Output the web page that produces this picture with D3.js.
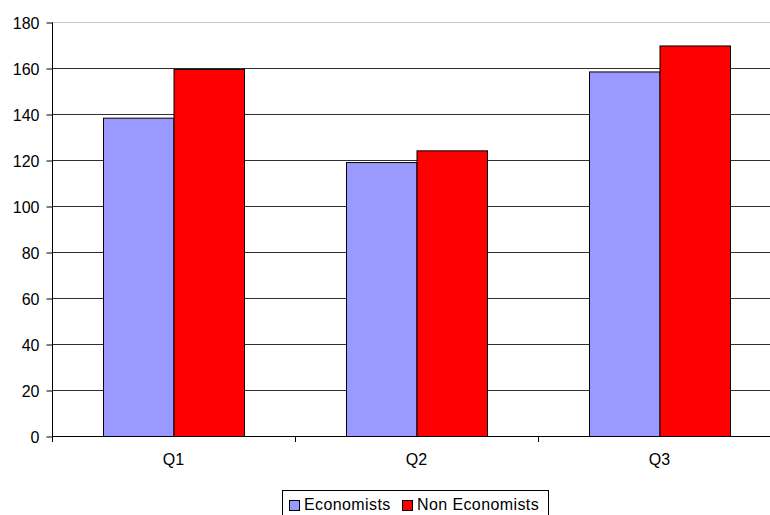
<!DOCTYPE html>
<html><head><meta charset="utf-8">
<script src="https://cdn.jsdelivr.net/npm/d3@7"></script>
<style>body{margin:0;background:#fff}svg{display:block;font-family:"Liberation Sans",Arial,sans-serif}</style>
</head><body><svg id="c" width="770" height="515"></svg>
<script>
const categories = ["Q1", "Q2", "Q3"];
const seriesNames = ["Economists", "Non Economists"];
const economists = [138.4, 119.1, 158.5];
const nonEconomists = [159.6, 124.2, 169.8];
const yTicks = [0, 20, 40, 60, 80, 100, 120, 140, 160, 180];
const colors = ["#9999ff", "#ff0000"];

const svg = d3.select("#c");
const pLeft = 52, pRight = 781, pTop = 22, pBottom = 436;
const x = d3.scaleBand().domain(categories).range([pLeft, pRight]).paddingInner(0).paddingOuter(0);
const y = d3.scaleLinear().domain([0, 180]).range([pBottom, pTop]);
const barW = 70.5;
const xs = d3.scaleBand().domain(seriesNames).range([0, barW * 2]);

// gridlines
svg.append("g").selectAll("line").data(yTicks.filter(d => d > 0)).join("line")
  .attr("x1", pLeft).attr("x2", pRight)
  .attr("y1", d => Math.round(y(d)) + 0.5).attr("y2", d => Math.round(y(d)) + 0.5)
  .attr("stroke", d => d === 180 ? "#c8c8c8" : "#303030").attr("stroke-width", 1);

// bars
const data = categories.map((c, i) => ({c, vals: [economists[i], nonEconomists[i]]}));
const groups = svg.append("g").selectAll("g").data(data).join("g")
  .attr("transform", d => `translate(${x(d.c) + x.bandwidth() / 2 - barW},0)`);
groups.selectAll("rect").data(d => d.vals.map((v, k) => ({v, k}))).join("rect")
  .attr("x", d => xs(seriesNames[d.k]) + 0.5)
  .attr("width", xs.bandwidth())
  .attr("y", d => y(d.v) + 0.5)
  .attr("height", d => pBottom - y(d.v))
  .attr("fill", d => colors[d.k]).attr("stroke", "#000").attr("stroke-width", 1);

// y axis
const yAxis = svg.append("g").attr("transform", `translate(${pLeft + 0.5},0.5)`)
  .call(d3.axisLeft(y).tickValues(yTicks).tickSize(6).tickPadding(7).tickFormat(d3.format("d")));
yAxis.attr("font-size", null).attr("font-family", null);
yAxis.select(".domain").attr("stroke", "#000").attr("d", `M0,${pTop}V${pBottom}`);
yAxis.selectAll(".tick line").attr("stroke", "#000");
yAxis.selectAll("text").style("font-size", "16px").attr("fill", "#000").attr("dy", "0.35em");

// x axis
const xAxis = svg.append("g").attr("transform", `translate(0,${pBottom + 0.5})`)
  .call(d3.axisBottom(x).tickSize(0).tickPadding(17));
xAxis.attr("font-size", null).attr("font-family", null);
xAxis.select(".domain").attr("stroke", "#000").attr("d", `M${pLeft},0H${pRight}`);
xAxis.selectAll("text").style("font-size", "16px").attr("fill", "#000");
// category boundary ticks
svg.append("g").selectAll("line").data(categories.map(c => x(c)).concat([pRight])).join("line")
  .attr("x1", d => Math.round(d) + 0.5).attr("x2", d => Math.round(d) + 0.5)
  .attr("y1", pBottom).attr("y2", pBottom + 6).attr("stroke", "#000");

// legend
const lg = svg.append("g");
lg.append("rect").attr("x", 282.5).attr("y", 490.5).attr("width", 266).attr("height", 30)
  .attr("fill", "#fff").attr("stroke", "#000");
const legX = [289, 402];
seriesNames.forEach((n, i) => {
  lg.append("rect").attr("x", legX[i] + 0.5).attr("y", 500.5).attr("width", 10).attr("height", 10)
    .attr("fill", colors[i]).attr("stroke", "#000");
  lg.append("text").attr("x", legX[i] + 15).attr("y", 510).style("font-size", "16px")
    .attr("letter-spacing", 0.4).text(n);
});
</script></body></html>
